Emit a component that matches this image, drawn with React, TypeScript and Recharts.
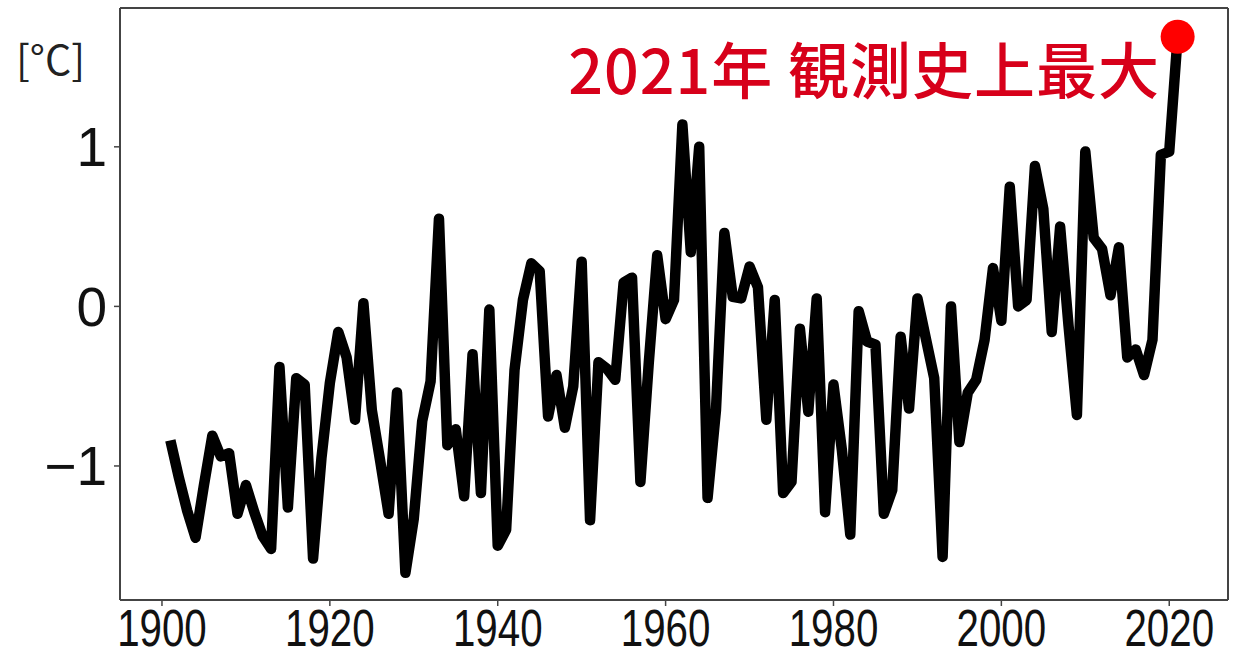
import { LineChart, Line, XAxis, YAxis, ReferenceLine, ReferenceDot } from 'recharts';

// annual mean temperature anomaly [°C], 1901-2021
const startYear = 1901;
const anomalies = [
  -0.84, -1.07, -1.28, -1.45, -1.12, -0.81, -0.94, -0.92, -1.30, -1.12, // 1901-1910
  -1.29, -1.44, -1.52, -0.38, -1.26, -0.45, -0.49, -1.58, -0.95, -0.48, // 1911-1920
  -0.16, -0.32, -0.71, 0.02, -0.65, -0.97, -1.30, -0.54, -1.67, -1.33, // 1921-1930
  -0.72, -0.47, 0.55, -0.87, -0.77, -1.19, -0.30, -1.17, -0.02, -1.50, // 1931-1940
  -1.40, -0.40, 0.04, 0.27, 0.22, -0.69, -0.43, -0.76, -0.50, 0.28, // 1941-1950
  -1.34, -0.35, -0.39, -0.46, 0.15, 0.18, -1.10, -0.35, 0.32, -0.08, // 1951-1960
  0.04, 1.14, 0.34, 1.00, -1.20, -0.65, 0.46, 0.06, 0.05, 0.25, // 1961-1970
  0.12, -0.71, 0.04, -1.17, -1.10, -0.14, -0.66, 0.05, -1.29, -0.49, // 1971-1980
  -0.90, -1.43, -0.03, -0.22, -0.24, -1.30, -1.15, -0.19, -0.64, 0.05, // 1981-1990
  -0.20, -0.45, -1.57, 0.00, -0.85, -0.54, -0.46, -0.21, 0.24, -0.09, // 1991-2000
  0.75, 0.00, 0.04, 0.88, 0.61, -0.16, 0.50, -0.12, -0.68, 0.97, // 2001-2010
  0.43, 0.36, 0.07, 0.37, -0.32, -0.27, -0.43, -0.21, 0.95, 0.97, // 2011-2020
  1.69, // 2021
];
const xTicks = [1900, 1920, 1940, 1960, 1980, 2000, 2020];
const yTicks = [-1, 0, 1];
const xDomain = [1895, 2027];
const yDomain = [-1.84, 1.87];

const data = anomalies.map((v, i) => ({ year: startYear + i, value: v }));
const last = data[data.length - 1];

const frameColor = '#444';

const fmtY = (v: number) => (v < 0 ? `\u2212${Math.abs(v)}` : `${v}`);

// narrow helvetica-ish year labels
const YearTick = (props: any) => {
  const { x, y, payload } = props;
  return (
    <g transform={`translate(${x},${y})`}>
      <text
        transform="scale(0.79,1)"
        textAnchor="middle"
        dy="0.71em"
        fill="#111"
        fontSize={51}
        fontFamily="'Liberation Sans', Arial, sans-serif"
      >
        {payload.value}
      </text>
    </g>
  );
};

export default function App() {
  return (
    <div style={{ position: 'absolute', left: 0, top: 0, width: 1234, height: 657, background: '#fff' }}>
      <LineChart
        width={1234}
        height={657}
        data={data}
        margin={{ top: 8, right: 6, bottom: 0, left: 0 }}
      >
        <XAxis
          dataKey="year"
          type="number"
          domain={xDomain}
          ticks={xTicks}
          height={57}
          tickSize={6}
          tickMargin={4}
          allowDataOverflow
          tick={<YearTick />}
          axisLine={{ stroke: frameColor, strokeWidth: 2 }}
          tickLine={{ stroke: frameColor, strokeWidth: 1.5 }}
        />
        <YAxis
          type="number"
          domain={yDomain}
          ticks={yTicks}
          width={120}
          tickSize={6}
          tickMargin={7}
          allowDataOverflow
          tickFormatter={fmtY}
          tick={{ fill: '#111', fontSize: 55, fontFamily: "'Liberation Sans', Arial, sans-serif" }}
          axisLine={{ stroke: frameColor, strokeWidth: 2 }}
          tickLine={{ stroke: frameColor, strokeWidth: 1.5 }}
        />
        <ReferenceLine y={yDomain[1]} stroke={frameColor} strokeWidth={2} />
        <ReferenceLine x={xDomain[1]} stroke={frameColor} strokeWidth={2} />
        <Line
          dataKey="value"
          stroke="#000"
          strokeWidth={10.5}
          strokeLinejoin="round"
          dot={false}
          activeDot={false}
          isAnimationActive={false}
        />
        <ReferenceDot x={last.year} y={last.value} r={17} fill="#ff0000" stroke="none" />
      </LineChart>
      <div
        style={{
          position: 'absolute', left: 16, top: 37, fontSize: 41, color: '#222',
          fontFamily: "'Noto Sans CJK JP', sans-serif", lineHeight: 1,
        }}
      >
        [°C]
      </div>
      <div
        style={{
          position: 'absolute', right: 1234 - 1160, top: 37, fontSize: 61, color: '#d7001a',
          fontFamily: "'Noto Sans CJK JP', sans-serif", fontWeight: 500, lineHeight: 1, whiteSpace: 'nowrap',
          letterSpacing: 1,
        }}
      >
        2021年 観測史上最大
      </div>
    </div>
  );
}
